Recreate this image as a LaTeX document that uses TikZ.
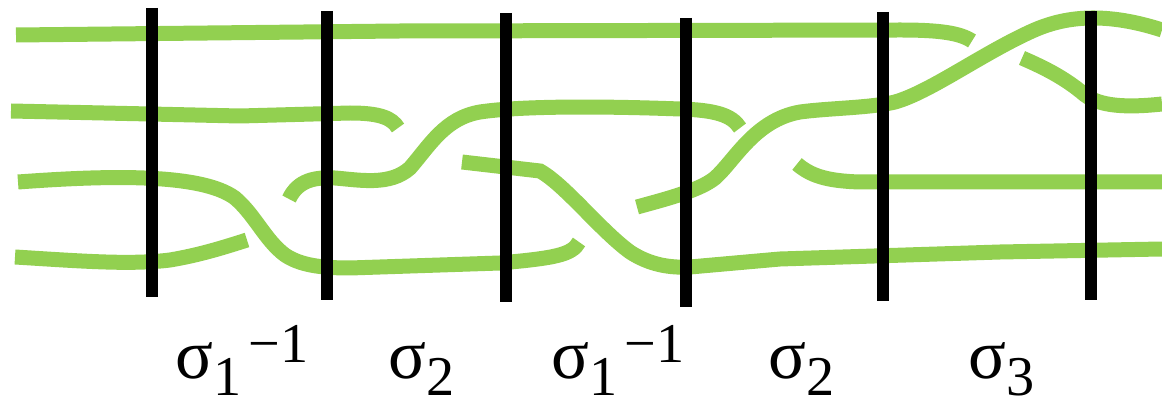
\documentclass[tikz,border=0pt]{standalone}
\usepackage{fontspec}
\setmainfont{Liberation Serif}
\usepackage{tikz}
\definecolor{braidgreen}{RGB}{146,208,80}
\newcommand{\braidgen}[2]{{\fontsize{40}{40}\selectfont σ}\raisebox{-10pt}{#1}\hspace{4pt}\raisebox{9pt}{#2}}

\begin{document}
\begin{tikzpicture}[x=0.02cm,y=-0.02cm,
    strand/.style={braidgreen,line width=0.3cm},
    bar/.style={black,line width=0.24cm},
    genlabel/.style={inner sep=0pt,anchor=base west,font=\fontsize{32}{36}\selectfont}]
        \useasboundingbox (0,0) rectangle (1162,408);
        % strands
        \draw[strand] (16,35) -- (400,31) -- (900,30)
          .. controls (940,30) and (960,33) .. (972,41);
        \draw[strand] (11,111) -- (150,114) -- (240,116) -- (350,113)
          .. controls (380,113) and (392,118) .. (398,128);
        \draw[strand] (18,182) .. controls (100,176) and (200,172) .. (235,198)
          .. controls (255,215) and (265,240) .. (285,255)
          .. controls (300,265) and (320,268) .. (350,268) -- (500,263)
          .. controls (555,258) and (572,255) .. (579,242);
        \draw[strand] (15,257) .. controls (80,261) and (130,265) .. (170,260)
          .. controls (200,255) and (225,247) .. (247,240);
        \draw[strand] (289,199) .. controls (298,180) and (315,177) .. (335,178)
          .. controls (360,180) and (390,186) .. (410,168)
          .. controls (430,145) and (445,118) .. (480,112)
          .. controls (520,106) and (600,106) .. (680,109)
          .. controls (715,110) and (732,115) .. (740,128);
        \draw[strand] (462,162) -- (540,171)
          .. controls (565,185) and (600,230) .. (630,252)
          .. controls (650,265) and (670,268) .. (690,267)
          -- (780,259) -- (1000,252) -- (1162,249);
        \draw[strand] (637,207) .. controls (670,198) and (700,190) .. (715,178)
          .. controls (735,160) and (755,120) .. (800,112)
          .. controls (830,108) and (870,108) .. (895,102)
          .. controls (930,92) and (980,55) .. (1030,32)
          .. controls (1060,18) and (1100,10) .. (1162,30);
        \draw[strand] (797,164) .. controls (810,175) and (825,181) .. (860,182)
          -- (1162,182);
        \draw[strand] (1022,58) .. controls (1045,68) and (1065,78) .. (1085,95)
          .. controls (1100,106) and (1125,108) .. (1162,104);
        % bars
        \draw[bar] (152,8) -- (152,297);
        \draw[bar] (327,11) -- (327,300);
        \draw[bar] (506,13) -- (506,302);
        \draw[bar] (686,18) -- (686,307);
        \draw[bar] (883,12) -- (883,301);
        \draw[bar] (1091,11) -- (1091,300);
        % generators
        \node[genlabel] (g1) at (175,378) {\braidgen{1}{−1}};
        \node[genlabel] (g2) at (388,378) {\braidgen{2}{}};
        \node[genlabel] (g3) at (551,378) {\braidgen{1}{−1}};
        \node[genlabel] (g4) at (768,378) {\braidgen{2}{}};
        \node[genlabel] (g5) at (968,378) {\braidgen{3}{}};
\end{tikzpicture}
\end{document}
